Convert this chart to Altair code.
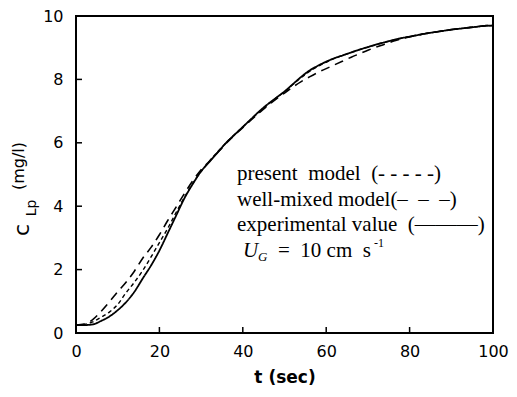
import altair as alt
import pandas as pd

# time (s)
t_vals = list(range(0, 101, 2))

# experimental value (solid)
c_exp = [0.25, 0.25, 0.27, 0.38, 0.52, 0.72, 0.97, 1.3, 1.72, 2.13, 2.6,
         3.15, 3.7, 4.25, 4.7, 5.1, 5.4, 5.7, 6.0, 6.25, 6.5,
         6.75, 7.0, 7.22, 7.42, 7.62, 7.85, 8.08, 8.28, 8.43, 8.56,
         8.67, 8.76, 8.85, 8.94, 9.02, 9.1, 9.17, 9.24, 9.3, 9.35,
         9.4, 9.45, 9.49, 9.53, 9.57, 9.6, 9.63, 9.66, 9.69, 9.7]

# present model (short dashes)
c_present = [0.25, 0.27, 0.35, 0.5, 0.66, 0.9, 1.27, 1.6, 1.97, 2.4, 2.85,
             3.3, 3.8, 4.28, 4.72, 5.1, 5.42, 5.72, 6.0, 6.26, 6.5,
             6.74, 6.98, 7.2, 7.41, 7.62, 7.84, 8.06, 8.25, 8.41, 8.54,
             8.66, 8.76, 8.85, 8.94, 9.02, 9.1, 9.17, 9.24, 9.3, 9.35,
             9.4, 9.45, 9.49, 9.53, 9.57, 9.6, 9.63, 9.66, 9.68, 9.7]

# well-mixed model (long dashes)
c_wellmixed = [0.25, 0.28, 0.42, 0.68, 0.98, 1.3, 1.6, 1.95, 2.36, 2.7, 3.1,
               3.55, 3.97, 4.4, 4.8, 5.15, 5.42, 5.7, 5.98, 6.24, 6.48,
               6.72, 6.95, 7.17, 7.38, 7.57, 7.76, 7.93, 8.08, 8.22, 8.34,
               8.46, 8.58, 8.7, 8.81, 8.92, 9.02, 9.11, 9.2, 9.28, 9.34,
               9.4, 9.45, 9.49, 9.53, 9.57, 9.6, 9.63, 9.66, 9.69, 9.7]

x_ticks = [0, 20, 40, 60, 80, 100]
y_ticks = [0, 2, 4, 6, 8, 10]
x_inner_ticks = [20, 40, 60, 80]
y_inner_ticks = [2, 4, 6, 8]

legend_lines = ["present\u00a0 model\u00a0 (- - - - -)",
                "well-mixed model(–\u00a0\u00a0–\u00a0\u00a0–)",
                "experimental value\u00a0 (———)"]
ug_parts = ["U", "G", "=\u00a0\u00a010\u00a0cm\u00a0\u00a0s", "-1"]
ytitle_parts = ["c", "Lp", "(mg/l)"]
x_title = "t (sec)"

W, H = 417, 317

xs = alt.Scale(domain=[0, 100], nice=False, zero=False)
ys = alt.Scale(domain=[0, 10], nice=False)

x_axis = alt.Axis(values=x_ticks, ticks=False, domain=False, grid=False,
                  labelFont="DejaVu Sans", labelFontSize=16, labelColor="black",
                  labelPadding=10, labelFlush=False,
                  title=x_title, titleFont="DejaVu Sans", titleFontSize=17,
                  titleFontWeight="bold", titleColor="black",
                  titleY=44, titleBaseline="middle")
y_axis = alt.Axis(values=y_ticks, ticks=False, domain=False, grid=False,
                  labelFont="DejaVu Sans", labelFontSize=16, labelColor="black",
                  labelPadding=13, labelFlush=False, title=None)


def line(vals, dash, width):
    df = pd.DataFrame({"t": t_vals, "c": vals})
    mark = alt.Chart(df).mark_line(color="black", strokeWidth=width,
                                   interpolate="monotone",
                                   strokeDash=dash if dash else [1, 0])
    return mark.encode(x=alt.X("t:Q", scale=xs, axis=x_axis),
                       y=alt.Y("c:Q", scale=ys, axis=y_axis))


l_exp = line(c_exp, None, 1.8)
l_pm = line(c_present, [4, 3], 1.4)
l_wm = line(c_wellmixed, [9, 6], 1.6)

yt = alt.Chart(pd.DataFrame({"v": y_inner_ticks})).mark_rule(
    color="black", strokeWidth=1.5).encode(
    y=alt.Y("v:Q", scale=ys), x=alt.value(0), x2=alt.value(6))
xt = alt.Chart(pd.DataFrame({"v": x_inner_ticks})).mark_rule(
    color="black", strokeWidth=1.5).encode(
    x=alt.X("v:Q", scale=xs), y=alt.value(H), y2=alt.value(H - 6))


def txt(s, x, y, size, font="Liberation Serif", style="normal",
        angle=None, align="left", baseline="alphabetic"):
    kw = dict(font=font, fontSize=size, fontStyle=style, color="black",
              align=align, baseline=baseline)
    if angle is not None:
        kw["angle"] = angle
    return alt.Chart(pd.DataFrame({"s": [s]})).mark_text(**kw).encode(
        x=alt.value(x), y=alt.value(y), text="s:N")


ann = [txt(legend_lines[0], 161, 164, 21),
       txt(legend_lines[1], 161, 190, 21),
       txt(legend_lines[2], 161, 215, 21),
       txt(ug_parts[0], 167, 241, 21, style="italic"),
       txt(ug_parts[1], 182, 245, 13, style="italic"),
       txt(ug_parts[2], 202, 241, 21),
       txt(ug_parts[3], 298, 231, 12),
       txt(ytitle_parts[0], -54, 214, 22, font="DejaVu Sans", angle=270,
           align="center", baseline="middle"),
       txt(ytitle_parts[1], -44, 192, 14, font="DejaVu Sans", angle=270,
           align="center", baseline="middle"),
       txt(ytitle_parts[2], -57, 150, 16, font="DejaVu Sans", angle=270,
           align="center", baseline="middle")]

chart = alt.layer(l_wm, l_pm, l_exp, yt, xt, *ann).properties(
    width=W, height=H,
    autosize=alt.AutoSizeParams(type="none"),
    padding={"left": 68, "top": 8, "right": 16, "bottom": 56},
    background="white",
).configure_view(stroke="black", strokeWidth=2)

chart.save("out.html", embed_options={"renderer": "svg", "actions": False})
